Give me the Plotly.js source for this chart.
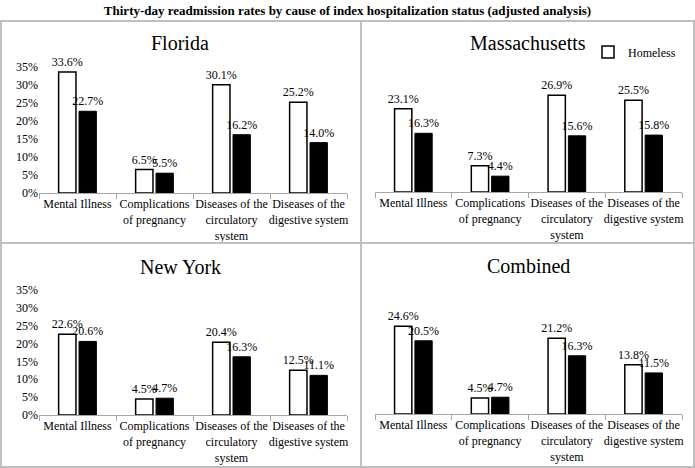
<!DOCTYPE html>
<html>
<head>
<meta charset="utf-8">
<script src="https://cdn.plot.ly/plotly-3.0.1.min.js"></script>
<style>html,body{margin:0;padding:0;background:#fff;}#chart{width:695px;height:468px;}</style>
</head>
<body>
<div id="chart"></div>
<script>
const categories = ["Mental Illness", "Complications<br>of pregnancy", "Diseases of the<br>circulatory<br>system", "Diseases of the<br>digestive system"];
const panelNames = ["Florida", "Massachusetts", "New York", "Combined"];
const floridaHomeless = [33.6, 6.5, 30.1, 25.2];
const floridaNonHomeless = [22.7, 5.5, 16.2, 14.0];
const massHomeless = [23.1, 7.3, 26.9, 25.5];
const massNonHomeless = [16.3, 4.4, 15.6, 15.8];
const nyHomeless = [22.6, 4.5, 20.4, 12.5];
const nyNonHomeless = [20.6, 4.7, 16.3, 11.1];
const combinedHomeless = [24.6, 4.5, 21.2, 13.8];
const combinedNonHomeless = [20.5, 4.7, 16.3, 11.5];
const yTicks = [0, 5, 10, 15, 20, 25, 30, 35];

const W = 695, H = 468;
const FONT = "Liberation Serif";
const px = v => v / W;
const py = v => 1 - v / H;

const homelessSets = [floridaHomeless, massHomeless, nyHomeless, combinedHomeless];
const nonSets = [floridaNonHomeless, massNonHomeless, nyNonHomeless, combinedNonHomeless];

const traces = [];
for (let i = 0; i < 4; i++) {
  const ax = i === 0 ? "" : String(i + 1);
  traces.push({
    type: "bar", name: "Homeless", x: categories, y: homelessSets[i],
    xaxis: "x" + ax, yaxis: "y" + ax,
    marker: {color: "#ffffff", line: {color: "#000000", width: 1.5}},
    text: homelessSets[i].map(v => v.toFixed(1) + "%"),
    textposition: "outside", cliponaxis: false, constraintext: "none",
    textfont: {family: FONT, size: 12, color: "#000"},
    showlegend: i === 1, hoverinfo: "skip"
  });
  traces.push({
    type: "bar", name: "Non-homeless", x: categories, y: nonSets[i],
    xaxis: "x" + ax, yaxis: "y" + ax,
    marker: {color: "#000000", line: {color: "#000000", width: 1}},
    text: nonSets[i].map(v => v.toFixed(1) + "%"),
    textposition: "outside", cliponaxis: false, constraintext: "none",
    textfont: {family: FONT, size: 12, color: "#000"},
    showlegend: false, hoverinfo: "skip"
  });
}

// panel geometry in pixels: [x0, x1, yTop(35%), yBottom(0%)]
const geo = [
  [39, 347, 67, 193],
  [375, 682, 66, 192],
  [39, 347, 290, 415],
  [375, 682, 289, 414]
];
const layout = {
  width: W, height: H,
  margin: {l: 0, r: 0, t: 0, b: 0},
  paper_bgcolor: "#fff", plot_bgcolor: "rgba(0,0,0,0)",
  font: {family: FONT, size: 12, color: "#000"},
  barmode: "group", bargap: 0.47, bargroupgap: 0.15,
  title: {text: "<b>Thirty-day readmission rates by cause of index hospitalization status (adjusted analysis)</b>",
          font: {family: FONT, size: 13, color: "#000"}, x: 0.5, xanchor: "center", y: py(10), yanchor: "middle"},
  showlegend: true,
  legend: {x: px(588), y: py(52), xanchor: "left", yanchor: "middle", font: {family: FONT, size: 12, color: "#000"}, itemwidth: 30, bgcolor: "rgba(0,0,0,0)"},
  shapes: [
    {type: "rect", xref: "paper", yref: "paper", x0: px(1), x1: px(694), y0: py(467), y1: py(21), line: {color: "#bfbfbf", width: 2}},
    {type: "line", xref: "paper", yref: "paper", x0: px(361), x1: px(361), y0: py(467), y1: py(21), line: {color: "#bfbfbf", width: 2}},
    {type: "line", xref: "paper", yref: "paper", x0: px(1), x1: px(694), y0: py(243), y1: py(243), line: {color: "#bfbfbf", width: 2}}
  ],
  annotations: []
};
const titlePos = [[180, 43], [528, 43], [180, 267], [528, 266]];
for (let i = 0; i < 4; i++) {
  const ax = i === 0 ? "" : String(i + 1);
  const g = geo[i];
  const left = (i % 2 === 0);
  layout["xaxis" + ax] = {
    domain: [px(g[0]), px(g[1])], anchor: "y" + ax,
    showline: true, linecolor: "#a6a6a6", linewidth: 1,
    ticks: "outside", tickson: "boundaries", ticklen: 5, tickcolor: "#a6a6a6",
    showgrid: false, zeroline: false, fixedrange: true,
    tickfont: {family: FONT, size: 12, color: "#000"}, tickangle: 0
  };
  layout["yaxis" + ax] = {
    domain: [py(g[3]), py(g[2])], anchor: "x" + ax,
    range: [0, 35], tickvals: yTicks, ticktext: yTicks.map(v => v + "%"),
    showticklabels: left, showline: false, showgrid: false, zeroline: false,
    ticks: "", fixedrange: true,
    tickfont: {family: FONT, size: 12, color: "#000"}
  };
  layout.annotations.push({
    text: panelNames[i], xref: "paper", yref: "paper",
    x: px(titlePos[i][0]), y: py(titlePos[i][1]), xanchor: "center", yanchor: "middle",
    showarrow: false, font: {family: FONT, size: 20, color: "#000"}
  });
}
Plotly.newPlot("chart", traces, layout, {staticPlot: true});
</script>
</body>
</html>
